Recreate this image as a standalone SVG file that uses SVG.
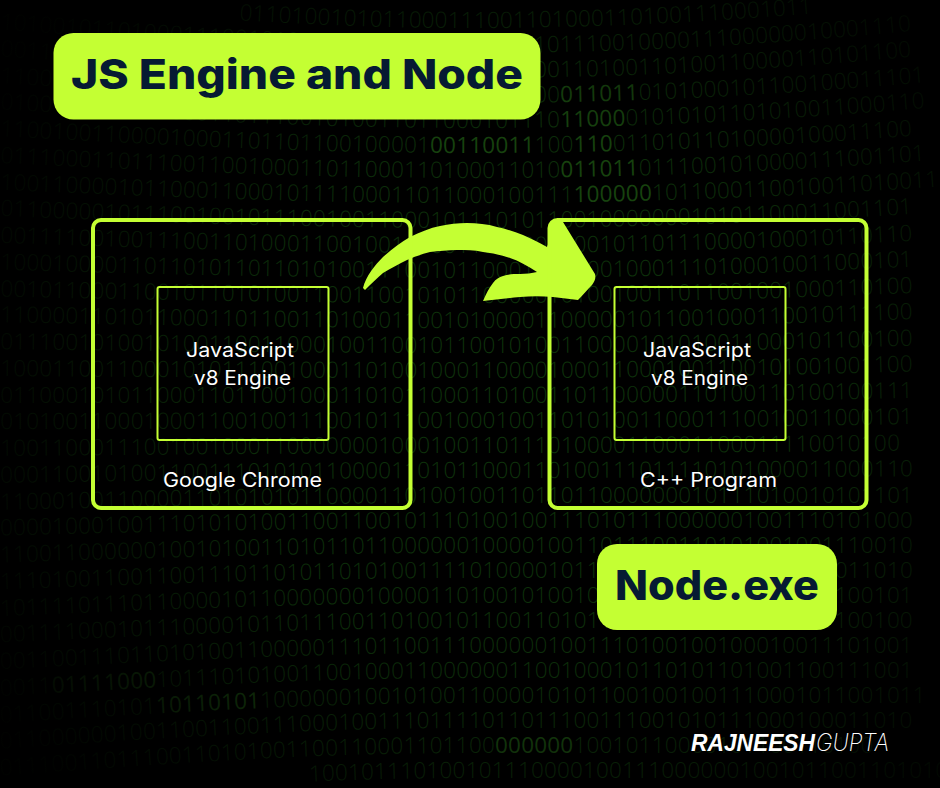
<svg xmlns="http://www.w3.org/2000/svg" width="940" height="788" viewBox="0 0 940 788">
<style>
.bg{font-family:"Open Sans","Liberation Sans",sans-serif;font-size:22.5px;font-weight:300;letter-spacing:.2px;fill:#0e340b}
.hi{fill:#1a4c10;font-weight:400}
.box{fill:none;stroke:#c4ff33;stroke-width:4}
.inner{fill:none;stroke:#c4ff33;stroke-width:2}
.pill{fill:#c4ff33}
.head{font-family:Inter,"Liberation Sans",sans-serif;font-weight:800;font-size:41px;fill:#061a33}
.lab{font-family:Inter,"Liberation Sans",sans-serif;font-size:19.5px;fill:#fff;font-weight:400}
</style>
<defs>
<radialGradient id="vig" gradientUnits="userSpaceOnUse" cx="530" cy="400" r="610">
<stop offset="0" stop-color="#000" stop-opacity="0"/>
<stop offset=".45" stop-color="#000" stop-opacity=".15"/>
<stop offset=".8" stop-color="#000" stop-opacity=".72"/>
<stop offset="1" stop-color="#000" stop-opacity=".95"/>
</radialGradient>
<path id="r1" d="M-20 1C150 14 300 28 470 28C620 28 780 19 960 -1"/>
<path id="r2" d="M-20 28C150 40 300 53 470 53C620 53 780 45 960 26"/>
<path id="r3" d="M-20 55C150 66 300 78 470 78C620 78 780 70 960 52"/>
<path id="r4" d="M-20 82C150 92 300 103 470 103C620 103 780 96 960 79"/>
<path id="r5" d="M-20 108C150 118 300 128 470 128C620 128 780 121 960 105"/>
<path id="r6" d="M-20 135C150 144 300 153 470 153C620 153 780 147 960 132"/>
<path id="r7" d="M-20 162C150 170 300 178 470 178C620 178 780 172 960 158"/>
<path id="r8" d="M-20 189C150 196 300 203 470 203C620 203 780 198 960 185"/>
<path id="r9" d="M-20 215C150 222 300 228 470 228C620 228 780 223 960 211"/>
<path id="r10" d="M-20 242C150 248 300 253 470 253C620 253 780 249 960 238"/>
<path id="r11" d="M-20 269C150 274 300 278 470 278C620 278 780 274 960 264"/>
<path id="r12" d="M-20 296C150 300 300 303 470 303C620 303 780 299 960 291"/>
<path id="r13" d="M-20 322C150 325 300 328 470 328C620 328 780 325 960 317"/>
<path id="r14" d="M-20 349C150 351 300 353 470 353C620 353 780 350 960 344"/>
<path id="r15" d="M-20 376C150 377 300 378 470 378C620 378 780 376 960 370"/>
<path id="r16" d="M-20 403C150 403 300 403 470 403C620 403 780 401 960 397"/>
<path id="r17" d="M-20 429C150 429 300 428 470 428C620 428 780 427 960 423"/>
<path id="r18" d="M-20 456C150 455 300 453 470 453C620 453 780 452 960 450"/>
<path id="r19" d="M-20 483C150 481 300 478 470 478C620 478 780 477 960 476"/>
<path id="r20" d="M-20 510C150 507 300 503 470 503C620 503 780 503 960 503"/>
<path id="r21" d="M-20 536C150 532 300 528 470 528C620 528 780 528 960 528"/>
<path id="r22" d="M-20 563C150 558 300 553 470 553C620 553 780 553 960 553"/>
<path id="r23" d="M-20 590C150 584 300 578 470 578C620 578 780 578 960 578"/>
<path id="r24" d="M-20 617C150 610 300 603 470 603C620 603 780 603 960 603"/>
<path id="r25" d="M-20 643C150 636 300 628 470 628C620 628 780 628 960 628"/>
<path id="r26" d="M-20 670C150 662 300 653 470 653C620 653 780 653 960 653"/>
<path id="r27" d="M-20 697C150 688 300 678 470 678C620 678 780 678 960 678"/>
<path id="r28" d="M-20 724C150 714 300 703 470 703C620 703 780 703 960 703"/>
<path id="r29" d="M-20 750C150 739 300 728 470 728C620 728 780 728 960 728"/>
<path id="r30" d="M-20 777C150 765 300 753 470 753C620 753 780 753 960 753"/>
<path id="r31" d="M-20 804C150 791 300 778 470 778C620 778 780 778 960 778"/>
</defs>
<rect width="940" height="788" fill="#000"/>
<g id="binary-background" class="bg">
<text><textPath href="#r1" startOffset="260">01101001010110001110011010001101001110001011</textPath></text>
<text><textPath href="#r2" startOffset="20">1010010110100011100101011001000101101000110111001000011100000010001110</textPath></text>
<text><textPath href="#r3" startOffset="20">0011000110101100100101011100110010001011000110100110100110000110101100</textPath></text>
<text><textPath href="#r4" startOffset="20">1100101000110101110010110001001110010101100<tspan class="hi">011011</tspan>0101000101100100011101</textPath></text>
<text><textPath href="#r5" startOffset="20">0100110001011000110111001010011011000101110<tspan class="hi">11000</tspan>01010101101010011000110</textPath></text>
<text><textPath href="#r6" startOffset="20">110010011000010001101101100100001<tspan class="hi">00110011</tspan>100<tspan class="hi">110</tspan>01101011010000100011100</textPath></text>
<text><textPath href="#r7" startOffset="20">0111000110111001100100011011000110100011010<tspan class="hi">011011</tspan>0111001010000111001101</textPath></text>
<text><textPath href="#r8" startOffset="20">10011000010110001100010111100011011000100111<tspan class="hi">100000</tspan>1011000110010011010011</textPath></text>
<text><textPath href="#r9" startOffset="20">0110000010111001001011100100110001011101011001000000010101100011001101</textPath></text>
<text><textPath href="#r10" startOffset="20">0011110010011100110100011001001110011010001100101101110000100010110110</textPath></text>
<text><textPath href="#r11" startOffset="20">1000100001101101011011010100111001011000110110010001110100010011000101</textPath></text>
<text><textPath href="#r12" startOffset="20">0010110001100101101010011001100101011000001010010011011001001000110100</textPath></text>
<text><textPath href="#r13" startOffset="20">1100001101011000110110011010001100101000011000001011001000110010111100</textPath></text>
<text><textPath href="#r14" startOffset="20">0111001010010100110011000100110010110010100110000101010011000101100100</textPath></text>
<text><textPath href="#r15" startOffset="20">1000110011000101011100100011010010001100001000110001001100101001001100</textPath></text>
<text><textPath href="#r16" startOffset="20">0110001010110001101100100011010110001101001101100000110100110100100111</textPath></text>
<text><textPath href="#r17" startOffset="20">0101001100010001100100111001011100100010011010100110001110010011000101</textPath></text>
<text><textPath href="#r18" startOffset="20">100110001110010010001100000001000100110111010000110001100011110010100</textPath></text>
<text><textPath href="#r19" startOffset="20">0001100101001100111010101100001101011000110100111011110101000011000110</textPath></text>
<text><textPath href="#r20" startOffset="20">1100010011000011010101011000011010010011011011000000010111010010101101</textPath></text>
<text><textPath href="#r21" startOffset="20">0000100010011101010100110011001011101001001110101110000001001110101000</textPath></text>
<text><textPath href="#r22" startOffset="20">1100110000001001010011010110110000001000010011011100110101001001110010</textPath></text>
<text><textPath href="#r23" startOffset="20">1110100110011001110110101101010011110100001011010001110010100110011010</textPath></text>
<text><textPath href="#r24" startOffset="20">1011110111011000010110000000100001101001010010110001011010010001100101</textPath></text>
<text><textPath href="#r25" startOffset="20">0011110001011100001011011100110100101100110101101001110111010001100100</textPath></text>
<text><textPath href="#r26" startOffset="20">0011001110110101001100000111011001110000001001110100100100010011101001</textPath></text>
<text><textPath href="#r27" startOffset="20">0011<tspan class="hi">01111000</tspan>1011101010011001000110000001100100010110101101001100111001</textPath></text>
<text><textPath href="#r28" startOffset="20">011001110101<tspan class="hi">10110101</tspan>100000010010100110000101011001001001110001011001011</textPath></text>
<text><textPath href="#r29" startOffset="20">0110000001001100110011100010011101111011011100111001010111000100011010</textPath></text>
<text><textPath href="#r30" startOffset="20">01110011011100110101001100110001101100<tspan class="hi">000000</tspan>10010110000101100110100</textPath></text>
<text><textPath href="#r31" startOffset="330">10010111010010111000010011100000010010110011010100100</textPath></text>
</g>
<rect id="vignette" width="940" height="788" fill="url(#vig)"/>
<g id="connectors">
<path id="arrow" fill="#c4ff33" d="M363 288C366 276 375 265 383 257C392 249 401 242 410 237C420 232 430 228 440 226C449 224 458 223 467 223C477 223 487 224 497 227C507 229 515 232 523 235C532 239 540 243 547 247C549 243 550 238 550 233C549 230 548 228 549 225C550 222 551 221 553 221L563 222L595 274C596 278 595 281 592 285C587 290 583 295 578 300C570 299 561 298 553 297C542 296 531 296 520 297C508 298 495 300 483 301C486 294 489 288 493 283C496 279 499 277 503 276C509 274 514 274 520 274C526 274 532 273 537 272C528 266 519 261 510 258C501 255 492 253 483 252C474 250 466 250 457 250C448 250 439 251 430 252C422 254 414 257 407 260C399 264 391 268 383 273C377 278 371 284 365 290Z"/>
</g>
<g id="title"><rect class="pill" x="53.5" y="33" width="487" height="86.5" rx="20"/><text class="head" x="71" y="89" textLength="452" lengthAdjust="spacingAndGlyphs">JS Engine and Node</text></g>
<g id="google-chrome"><rect class="box" x="93" y="220" width="317.5" height="288" rx="8"/><text class="lab" x="163" y="487" textLength="159" lengthAdjust="spacingAndGlyphs">Google Chrome</text></g>
<g id="v8-left"><rect class="inner" x="157.5" y="287" width="171" height="153" rx="2"/><text class="lab" x="186" y="357" textLength="108" lengthAdjust="spacingAndGlyphs">JavaScript</text><text class="lab" x="194" y="385" textLength="97" lengthAdjust="spacingAndGlyphs">v8 Engine</text></g>
<g id="cpp-program"><rect class="box" x="549.5" y="220" width="317" height="288" rx="8"/><text class="lab" x="640" y="487" textLength="137" lengthAdjust="spacingAndGlyphs">C++ Program</text></g>
<g id="v8-right"><rect class="inner" x="614.5" y="287" width="171" height="153" rx="2"/><text class="lab" x="643" y="357" textLength="108" lengthAdjust="spacingAndGlyphs">JavaScript</text><text class="lab" x="651" y="385" textLength="97" lengthAdjust="spacingAndGlyphs">v8 Engine</text></g>
<g id="node-exe"><rect class="pill" x="597" y="544" width="240" height="86" rx="20"/><text class="head" x="615" y="599.5" textLength="204" lengthAdjust="spacingAndGlyphs">Node.exe</text></g>
<g id="logo"><text x="691" y="751" textLength="124" lengthAdjust="spacingAndGlyphs" font-family="'Liberation Sans',sans-serif" font-weight="700" font-style="italic" font-size="24" fill="#fff">RAJNEESH</text><text x="816" y="751" textLength="73" lengthAdjust="spacingAndGlyphs" font-family="Inter,'Liberation Sans',sans-serif" font-weight="200" font-style="italic" font-size="24" fill="#fff">GUPTA</text></g>
</svg>
